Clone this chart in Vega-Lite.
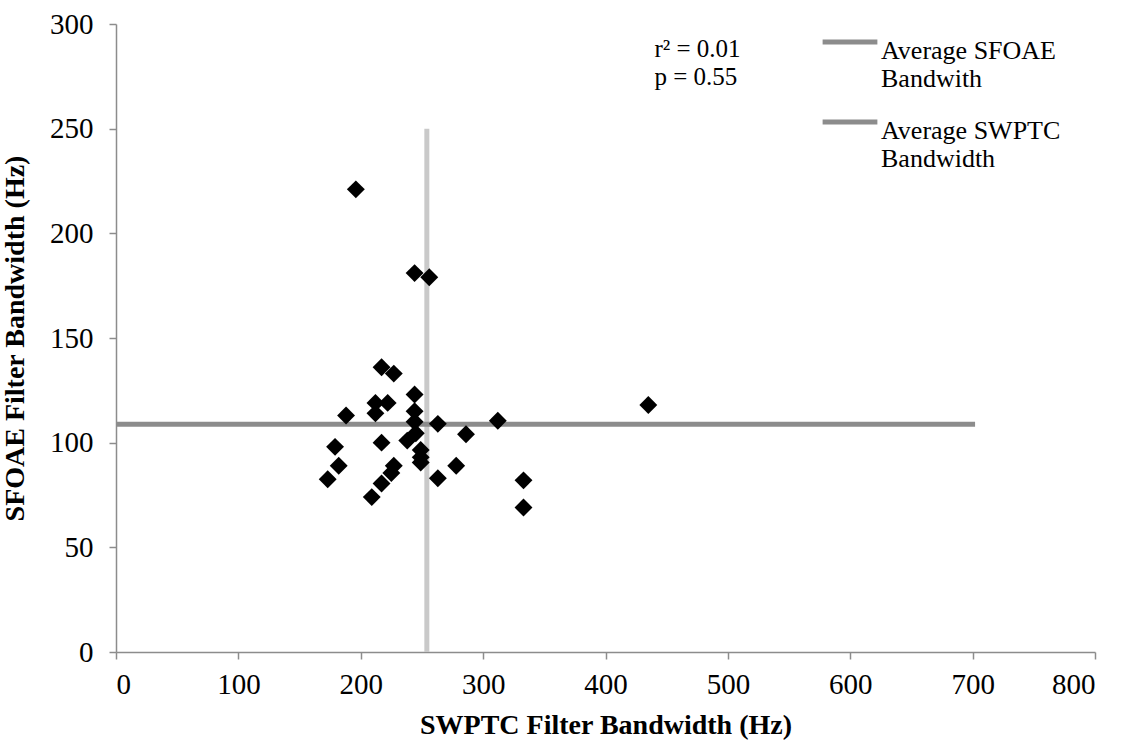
{
  "$schema": "https://vega.github.io/schema/vega-lite/v6.json",
  "width": 979,
  "height": 628,
  "autosize": {"type": "none"},
  "padding": {"left": 116, "top": 24, "right": 26, "bottom": 94},
  "config": {
    "view": {"stroke": null},
    "font": "Liberation Serif",
    "text": {"lineBreak": "\n"},
    "axis": {
      "grid": false,
      "domainColor": "#8c8c8c",
      "domainWidth": 1.5,
      "tickColor": "#8c8c8c",
      "tickWidth": 1.5,
      "tickSize": 7,
      "labelFont": "Liberation Serif",
      "labelFontSize": 29,
      "labelColor": "#000000",
      "titleFont": "Liberation Serif",
      "titleFontSize": 28,
      "titleFontWeight": "bold",
      "titleColor": "#000000"
    }
  },
  "datasets": {
    "hline": [
      {"series": "Average SFOAE|Bandwith", "x1": 0, "x2": 702, "y1": 108.8, "y2": 108.8}
    ],
    "vline": [
      {"series": "Average SWPTC|Bandwidth", "x1": 254, "x2": 254, "y1": 0, "y2": 250}
    ],
    "points": [
      {"swptc": 196, "sfoae": 221},
      {"swptc": 244, "sfoae": 181},
      {"swptc": 256, "sfoae": 179},
      {"swptc": 217, "sfoae": 136},
      {"swptc": 227, "sfoae": 133},
      {"swptc": 244, "sfoae": 123},
      {"swptc": 188, "sfoae": 113},
      {"swptc": 212, "sfoae": 119},
      {"swptc": 222, "sfoae": 119},
      {"swptc": 212, "sfoae": 114},
      {"swptc": 244, "sfoae": 115},
      {"swptc": 244, "sfoae": 110},
      {"swptc": 245, "sfoae": 104.5},
      {"swptc": 238, "sfoae": 101},
      {"swptc": 217, "sfoae": 100},
      {"swptc": 179, "sfoae": 98},
      {"swptc": 249, "sfoae": 96.5},
      {"swptc": 249, "sfoae": 93},
      {"swptc": 249, "sfoae": 90.5},
      {"swptc": 263, "sfoae": 109},
      {"swptc": 286, "sfoae": 104},
      {"swptc": 312, "sfoae": 110.5},
      {"swptc": 435, "sfoae": 118},
      {"swptc": 182, "sfoae": 89},
      {"swptc": 173, "sfoae": 82.5},
      {"swptc": 227, "sfoae": 89},
      {"swptc": 225, "sfoae": 85.5},
      {"swptc": 217, "sfoae": 80.5},
      {"swptc": 209, "sfoae": 74},
      {"swptc": 278, "sfoae": 89},
      {"swptc": 263, "sfoae": 83},
      {"swptc": 333, "sfoae": 82},
      {"swptc": 333, "sfoae": 69}
    ],
    "note": [
      {"x": 440, "y": 294, "label": "r² = 0.01\np = 0.55"}
    ]
  },
  "layer": [
    {
      "data": {"name": "vline"},
      "mark": {"type": "rule", "strokeWidth": 5, "color": "#c9c9c9"},
      "encoding": {
        "x": {"field": "x1", "type": "quantitative", "scale": {"domain": [0, 800], "nice": false}, "axis": {"values": [0,100,200,300,400,500,600,700,800], "labelPadding": 11, "titlePadding": 12}, "title": "SWPTC Filter Bandwidth (Hz)"},
        "x2": {"field": "x2"},
        "y": {"field": "y1", "type": "quantitative", "scale": {"domain": [0, 300], "nice": false}, "axis": {"values": [0,50,100,150,200,250,300], "labelPadding": 16, "titlePadding": 20}, "title": "SFOAE Filter Bandwidth (Hz)"},
        "y2": {"field": "y2"}
      }
    },
    {
      "data": {"name": "hline"},
      "mark": {"type": "rule", "strokeWidth": 5},
      "encoding": {
        "x": {"field": "x1", "type": "quantitative", "title": "SWPTC Filter Bandwidth (Hz)"},
        "x2": {"field": "x2"},
        "y": {"field": "y1", "type": "quantitative", "title": "SFOAE Filter Bandwidth (Hz)"},
        "y2": {"field": "y2"},
        "color": {
          "field": "series",
          "type": "nominal",
          "scale": {"domain": ["Average SFOAE|Bandwith", "Average SWPTC|Bandwidth"], "range": ["#8c8c8c", "#8c8c8c"]},
          "legend": {
            "orient": "none",
            "legendX": 704,
            "legendY": -12,
            "title": null,
            "padding": 0,
            "symbolType": "stroke",
            "symbolSize": 3000,
            "symbolStrokeWidth": 5,
            "labelFont": "Liberation Serif",
            "labelFontSize": 26,
            "labelColor": "#000000",
            "labelLimit": 0,
            "labelOffset": 1,
            "labelBaseline": "top",
            "rowPadding": -5,
            "labelExpr": "split(datum.label, '|')",
            "encode": {
              "labels": {"update": {"lineHeight": {"value": 28}, "dy": {"value": -4}}}
            }
          }
        }
      }
    },
    {
      "data": {"name": "points"},
      "mark": {"type": "point", "shape": "diamond", "filled": true, "color": "#000000", "opacity": 1, "size": 320},
      "encoding": {
        "x": {"field": "swptc", "type": "quantitative", "title": "SWPTC Filter Bandwidth (Hz)"},
        "y": {"field": "sfoae", "type": "quantitative", "title": "SFOAE Filter Bandwidth (Hz)"}
      }
    },
    {
      "data": {"name": "note"},
      "mark": {"type": "text", "align": "left", "baseline": "top", "font": "Liberation Serif", "fontSize": 25, "lineHeight": 28, "color": "#000000"},
      "encoding": {
        "x": {"field": "x", "type": "quantitative", "title": "SWPTC Filter Bandwidth (Hz)"},
        "y": {"field": "y", "type": "quantitative", "title": "SFOAE Filter Bandwidth (Hz)"},
        "text": {"field": "label"}
      }
    }
  ]
}
